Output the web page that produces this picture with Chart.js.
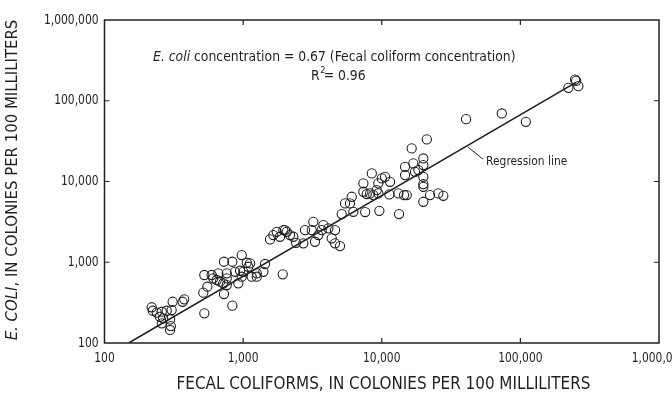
<!DOCTYPE html>
<html>
<head>
    <title>E. coli vs fecal coliforms</title>
    <script src="https://cdn.jsdelivr.net/npm/chart.js@4.4.0/dist/chart.umd.min.js"></script>
    <style>
        html, body { margin: 0; padding: 0; background: #fff; }
        #wrap { width: 672px; height: 394px; }
    </style>
</head>
<body>
    <div id="wrap"><canvas id="myChart" width="672" height="394"></canvas></div>
    <script>
        // fecal coliforms (x) and E. coli (y), colonies per 100 mL
        var fecal = [219, 223, 238, 259, 281, 251, 265, 259, 297, 301, 297, 305, 310, 366, 376,
            525, 516, 552, 525, 593, 609, 662, 645, 681, 719, 762, 728, 836, 762, 728, 762, 836,
            923, 874, 951, 1003, 977, 1062, 1090, 977, 1153, 1254, 1400, 1439, 1932, 1254, 1122,
            1563, 1651, 1747, 1845, 1950, 2064, 2179, 2302, 2409, 2005, 2718, 2796, 3124, 3208,
            3300, 3488, 3690, 3791, 4121, 4357, 4603, 4603, 5000, 5143, 5432, 5900, 6073, 6240,
            7370, 7370, 7796, 8238, 8476, 8694, 9204, 9450, 9450, 10000, 10560, 11480, 7590, 9610,
            13180, 14490, 15140, 13330, 14730, 16900, 14730, 17380, 18370, 19950, 19950, 19950,
            19950, 19950, 19950, 22290, 25590, 27800, 16440, 21130, 40550, 73400, 109500,
            248000, 252500, 222000, 262000, 11350];
        var ecoli = [277, 251, 238, 244, 251, 211, 202, 175, 196, 162, 145, 256, 324, 324, 347,
            233, 420, 498, 695, 695, 632, 729, 603, 574, 548, 632, 1015, 1015, 522, 404, 729, 290,
            548, 762, 785, 762, 1228, 986, 879, 662, 662, 662, 762, 951, 708, 729, 968,
            1919, 2172, 2384, 2070, 2500, 2384, 2172, 2070, 1742, 2500, 1713, 2500, 2500, 3169,
            1795, 2172, 2500, 2884, 2630, 1977, 2500, 1713, 1586, 3954, 5356, 5356, 6470, 4217,
            9480, 7466, 6988, 7124, 12590, 6790, 7830, 9480, 7124, 10920, 11440, 9910, 4184, 4333,
            7124, 6790, 6790, 3954, 15200, 16750, 12000, 13190, 13840, 19300, 15960, 11430,
            9290, 8600, 5610, 6790, 7124, 6650, 25700, 33200, 59200, 69600, 54800,
            183000, 176000, 144500, 151700, 6920];

        // regression: E. coli = 0.67 * fecal coliform
        var slope = 0.67;
        var lineX = [149.3, 250000];

        var decades = [100, 1000, 10000, 100000, 1000000];
        var tickLabels = ['100', '1,000', '10,000', '100,000', '1,000,000'];

        var FONT = '"Liberation Sans Narrow", "DejaVu Sans Condensed", "Liberation Sans", sans-serif';
        var INK = '#231f20';

        var points = fecal.map(function (x, i) { return { x: x, y: ecoli[i] }; });
        var regLine = lineX.map(function (x) { return { x: x, y: slope * x }; });

        function decadeTicks(scale) {
            scale.ticks = decades.map(function (v) { return { value: v, major: true }; });
        }

        // squeeze a label horizontally a little, the original face is very condensed
        function narrowText(c, txt, x, y, align, sx) {
            c.save();
            c.translate(x, y);
            c.scale(sx, 1);
            c.textAlign = align;
            c.fillText(txt, 0, 0);
            c.restore();
        }

        var framePlugin = {
            id: 'frame',
            afterDatasetsDraw: function (chart) {
                var c = chart.ctx, a = chart.chartArea;
                var xs = chart.scales.x, ys = chart.scales.y;
                c.save();
                c.strokeStyle = INK;
                c.lineWidth = 1.5;
                c.strokeRect(a.left, a.top, a.right - a.left, a.bottom - a.top);
                c.lineWidth = 1.2;
                c.beginPath();
                var t = 5;
                decades.slice(1, 4).forEach(function (v) {
                    var px = xs.getPixelForValue(v);
                    c.moveTo(px, a.bottom); c.lineTo(px, a.bottom - t);
                    c.moveTo(px, a.top); c.lineTo(px, a.top + t);
                    var py = ys.getPixelForValue(v);
                    c.moveTo(a.left, py); c.lineTo(a.left + t, py);
                    c.moveTo(a.right, py); c.lineTo(a.right - t, py);
                });
                c.stroke();

                c.fillStyle = INK;
                c.textBaseline = 'middle';

                // tick labels
                c.font = '14px ' + FONT;
                decades.forEach(function (v, i) {
                    narrowText(c, tickLabels[i], xs.getPixelForValue(v), a.bottom + 15, 'center', 0.85);
                    narrowText(c, tickLabels[i], a.left - 6, ys.getPixelForValue(v), 'right', 0.85);
                });

                // equation
                var ex = xs.getPixelForValue(224), ey = ys.getPixelForValue(340000);
                c.textAlign = 'left';
                c.font = 'italic 13.8px ' + FONT;
                c.fillText('E. coli', ex, ey);
                var w = c.measureText('E. coli ').width;
                c.font = '13.8px ' + FONT;
                c.fillText('concentration = 0.67 (Fecal coliform concentration)', ex + w, ey);

                var rx = xs.getPixelForValue(3090), ry = ys.getPixelForValue(203000);
                c.fillText('R', rx, ry);
                var rW = c.measureText('R').width;
                c.fillText('= 0.96', rx + rW + 4, ry);
                c.font = '9px ' + FONT;
                c.fillText('2', rx + rW + 0.5, ry - 5);

                // regression label + leader
                var l0x = xs.getPixelForValue(42000), l0y = ys.getPixelForValue(slope * 42000);
                var l1x = xs.getPixelForValue(53800), l1y = ys.getPixelForValue(18900);
                c.lineWidth = 1;
                c.beginPath();
                c.moveTo(l0x, l0y + 2); c.lineTo(l1x, l1y);
                c.stroke();
                c.font = '11.9px ' + FONT;
                c.textAlign = 'left';
                c.fillText('Regression line', xs.getPixelForValue(56600), ys.getPixelForValue(17400));

                // axis titles
                c.font = '16.9px ' + FONT;
                c.textAlign = 'center';
                c.fillText('FECAL COLIFORMS, IN COLONIES PER 100 MILLILITERS', 383.5, 385);

                c.translate(13, 180);
                c.rotate(-Math.PI / 2);
                var p1 = 'E. COLI', p2 = ', IN COLONIES PER 100 MILLILITERS';
                c.font = 'italic 16.6px ' + FONT;
                var w1 = c.measureText(p1).width;
                c.font = '16.6px ' + FONT;
                var w2 = c.measureText(p2).width;
                var sx = -(w1 + w2) / 2;
                c.textAlign = 'left';
                c.font = 'italic 16.6px ' + FONT;
                c.fillText(p1, sx, 0);
                c.font = '16.6px ' + FONT;
                c.fillText(p2, sx + w1, 0);
                c.restore();
            }
        };

        var ctx = document.getElementById('myChart').getContext('2d');
        var myChart = new Chart(ctx, {
            type: 'scatter',
            data: {
                datasets: [{
                    label: 'Samples',
                    data: points,
                    pointRadius: 4.6,
                    pointBorderWidth: 1.1,
                    pointBorderColor: INK,
                    pointBackgroundColor: 'rgba(0,0,0,0)',
                    pointHoverRadius: 4.6
                }, {
                    type: 'line',
                    label: 'Regression line',
                    data: regLine,
                    borderColor: INK,
                    borderWidth: 1.6,
                    pointRadius: 0,
                    fill: false,
                    tension: 0
                }]
            },
            options: {
                responsive: false,
                animation: false,
                layout: { padding: { left: 0, right: 13, top: 20, bottom: 0 } },
                plugins: { legend: { display: false }, tooltip: { enabled: false } },
                scales: {
                    x: {
                        type: 'logarithmic',
                        min: 100, max: 1000000,
                        afterBuildTicks: decadeTicks,
                        afterFit: function (s) { s.height = 51; s.paddingLeft = 0; s.paddingRight = 0; },
                        grid: { display: false, drawTicks: false },
                        border: { display: false },
                        ticks: { display: false }
                    },
                    y: {
                        type: 'logarithmic',
                        min: 100, max: 1000000,
                        afterBuildTicks: decadeTicks,
                        afterFit: function (s) { s.width = 104.5; s.paddingTop = 0; s.paddingBottom = 0; },
                        grid: { display: false, drawTicks: false },
                        border: { display: false },
                        ticks: { display: false }
                    }
                }
            },
            plugins: [framePlugin]
        });
    </script>
</body>
</html>
